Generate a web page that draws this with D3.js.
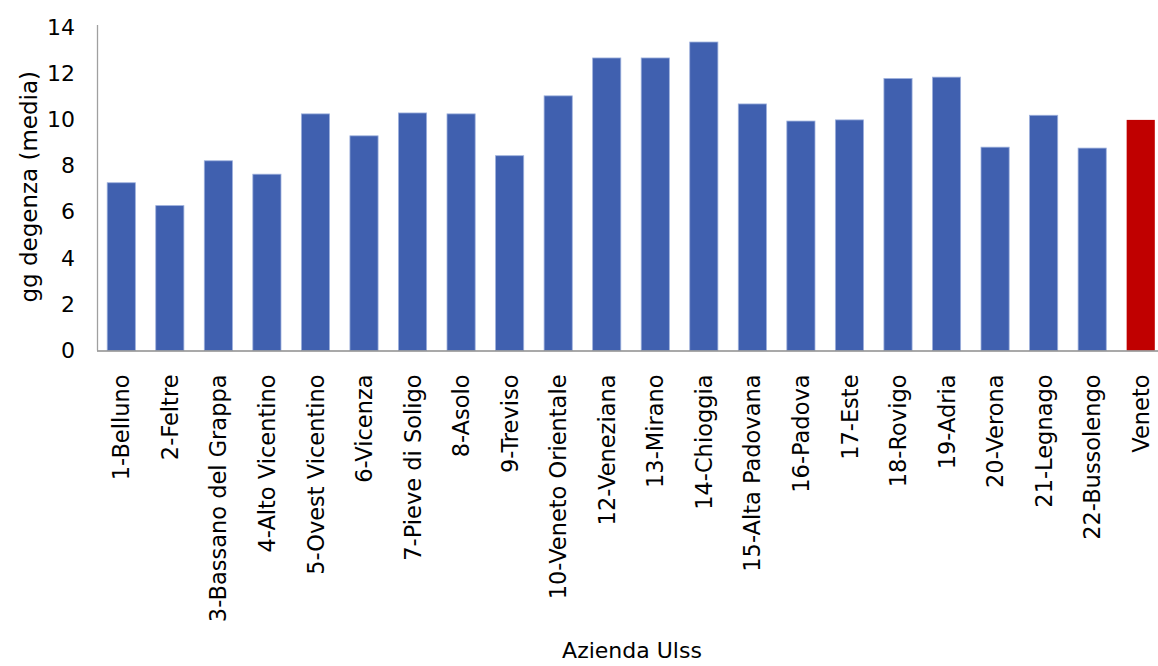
<!DOCTYPE html>
<html>
<head>
<meta charset="utf-8">
<script src="https://cdn.jsdelivr.net/npm/d3@7"></script>
<style>
  html, body { margin: 0; padding: 0; background: #fff; }
  text { font-family: "DejaVu Sans", Verdana, sans-serif; fill: #000; }
</style>
</head>
<body>
<svg id="chart" width="1158" height="666"></svg>
<script>
const categories = ["1-Belluno", "2-Feltre", "3-Bassano del Grappa", "4-Alto Vicentino",
  "5-Ovest Vicentino", "6-Vicenza", "7-Pieve di Soligo", "8-Asolo", "9-Treviso",
  "10-Veneto Orientale", "12-Veneziana", "13-Mirano", "14-Chioggia", "15-Alta Padovana",
  "16-Padova", "17-Este", "18-Rovigo", "19-Adria", "20-Verona", "21-Legnago",
  "22-Bussolengo", "Veneto"];
const values = [7.26, 6.27, 8.21, 7.63, 10.24, 9.29, 10.28, 10.24, 8.43, 11.02,
  12.66, 12.66, 13.35, 10.67, 9.93, 9.98, 11.77, 11.83, 8.80, 10.18, 8.76, 9.98];
const yTicks = [0, 2, 4, 6, 8, 10, 12, 14];
const highlight = "Veneto";
const yTitle = "gg degenza (media)";
const xTitle = "Azienda Ulss";

const svg = d3.select("#chart");
const x0 = 97, x1 = 97 + 1068;
const yBase = 350.5, yTop = 27;

const x = d3.scaleBand().domain(categories).range([x0, x1])
  .paddingInner(0.42).paddingOuter(0.21);
const y = d3.scaleLinear().domain([0, 14]).range([yBase, yTop]);

// bars
svg.append("g").selectAll("rect").data(categories).join("rect")
  .attr("x", d => x(d))
  .attr("width", x.bandwidth())
  .attr("y", (d, i) => y(values[i]))
  .attr("height", (d, i) => yBase - y(values[i]))
  .attr("fill", d => d === highlight ? "#C00000" : "#4060AF")
  .attr("stroke", d => d === highlight ? "none" : "#9DB0DC")
  .attr("stroke-width", 0.8);

// y axis
const yAxis = svg.append("g").attr("transform", `translate(${x0},0)`)
  .call(d3.axisLeft(y).tickValues(yTicks).tickSize(0).tickPadding(22).tickFormat(d3.format("d")));
yAxis.select(".domain").attr("stroke", "#A0A0A0").attr("stroke-width", 1.3)
  .attr("d", `M0.5,${yBase}V25`);
yAxis.selectAll("text").style("font-size", "22px").style("font-family", "DejaVu Sans, Verdana, sans-serif");

// x axis
const xAxis = svg.append("g").attr("transform", `translate(0,${yBase})`)
  .call(d3.axisBottom(x).tickSize(0).tickPadding(0));
xAxis.select(".domain").attr("stroke", "#8C8C8C").attr("stroke-width", 1.3)
  .attr("d", `M${x0},0.5H${x1}`);
xAxis.selectAll("text")
  .style("font-size", "22.5px").style("font-family", "DejaVu Sans, Verdana, sans-serif")
  .attr("text-anchor", "end")
  .attr("transform", "rotate(-90)")
  .attr("x", -24).attr("y", 0).attr("dy", "0.36em");

// axis titles
svg.append("text")
  .attr("transform", `translate(37,${(yBase + yTop) / 2 - 2}) rotate(-90)`)
  .attr("text-anchor", "middle")
  .style("font-size", "23px")
  .text(yTitle);

svg.append("text")
  .attr("x", 632).attr("y", 658)
  .attr("text-anchor", "middle")
  .style("font-size", "22px")
  .text(xTitle);
</script>
</body>
</html>
